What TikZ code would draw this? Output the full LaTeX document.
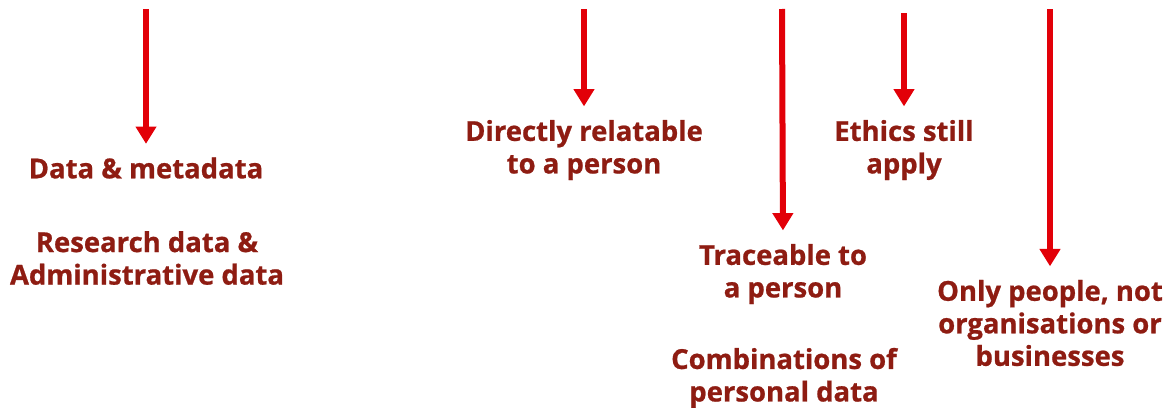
\documentclass[tikz,border=0pt]{standalone}
\usepackage{fontspec}
\setmainfont[BoldFeatures={FakeBold=0.8}]{Open Sans}
\usetikzlibrary{arrows.meta}
\usetikzlibrary{positioning}
\definecolor{darkred}{HTML}{8E1C12}
\definecolor{arrowred}{HTML}{E20008}
\tikzset{x=0.75pt, y=-0.75pt,
      label/.style={ % Sets the properties for each text block
      text=darkred,
      align=center,
      inner sep=0pt,
      font=\fontsize{20.6}{24.4}\selectfont\bfseries},
      arr/.style={ % Thick red arrows pointing down
      draw=arrowred,
      line width=4.5pt,
      -{Triangle[width=15pt,length=13pt]}}}

\begin{document}
\begin{tikzpicture}
      \useasboundingbox (0,0) rectangle (1166,407);
      % start points of the arrows
      \coordinate (s1) at (146,9);
      \coordinate (s2) at (584,9);
      \coordinate (s3) at (782,9);
      \coordinate (s4) at (904,13);
      \coordinate (s5) at (1050,9);
      % texts
      \node[label] (dm) at (146,168) {Data \& metadata};
      \node[label] (rd) at (147,258) {Research data \&\\Administrative data};
      \node[label] (dr) at (584,150) {Directly relatable\\to a person};
      \node[label] (es) at (904,150) {Ethics still\\apply};
      \node[label] (tr) at (783,274) {Traceable to\\a person};
      \node[label] (cp) at (784,378) {Combinations of\\personal data};
      \node[label] (op) at (1050,323) {Only people, not\\organisations or\\businesses};
      % arrows
      \draw[arr, shorten >=10pt] (s1) -- (dm.north);
      \draw[arr, shorten >=10pt] (s2) -- (dr.north);
      \draw[arr, shorten >=10pt] (s3) -- (tr.north);
      \draw[arr, shorten >=10pt] (s4) -- (es.north);
      \draw[arr, shorten >=10pt] (s5) -- (op.north);
\end{tikzpicture}
\end{document}
